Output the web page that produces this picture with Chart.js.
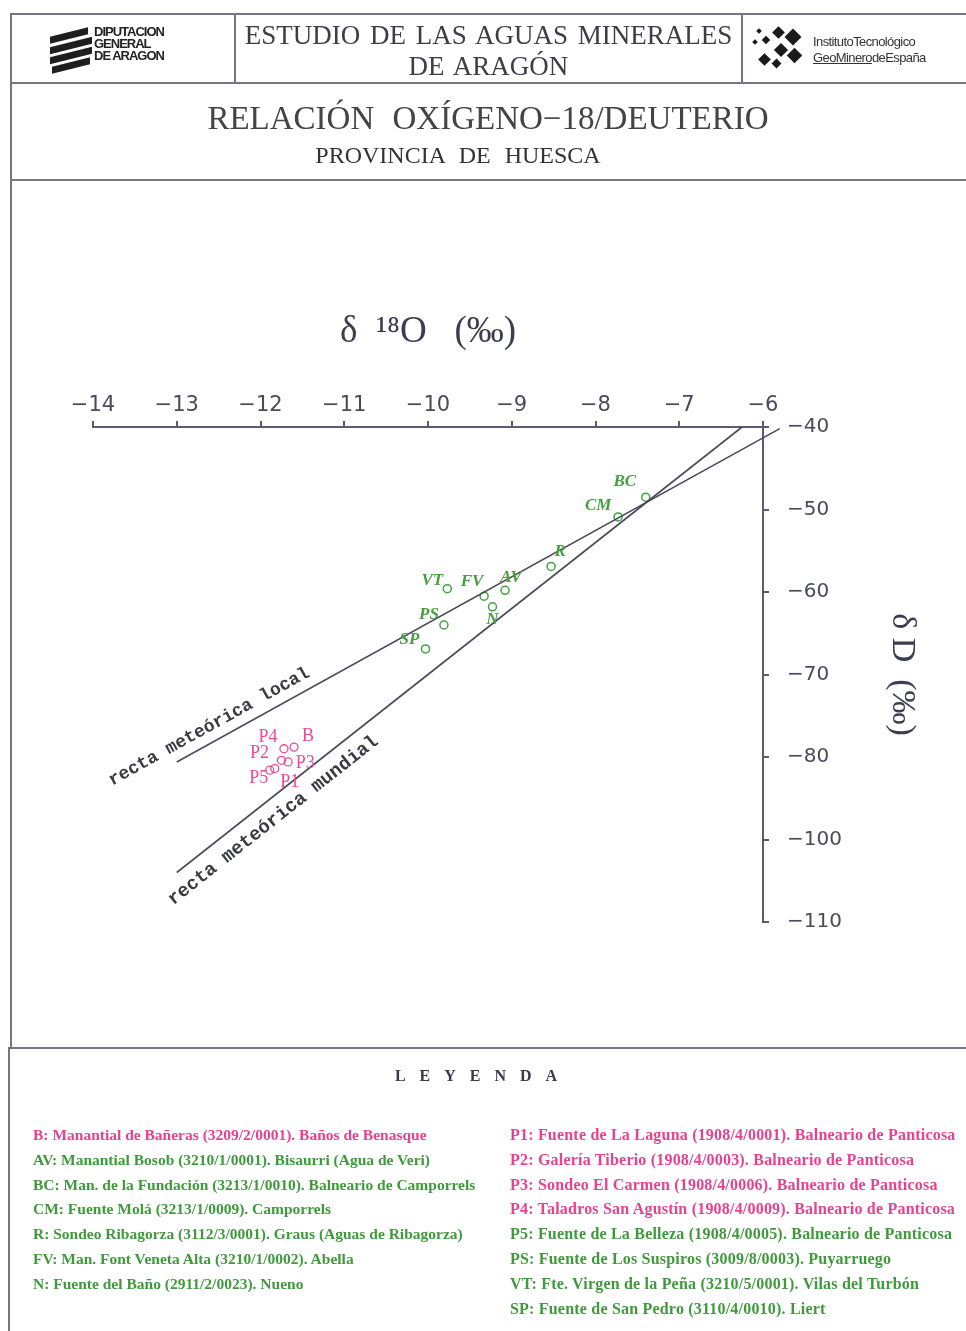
<!DOCTYPE html>
<html>
<head>
<meta charset="utf-8">
<script src="https://cdn.jsdelivr.net/npm/chart.js@4.4.1/dist/chart.umd.min.js"></script>
<style>
  body { margin: 0; background: #fff; }
  #page { position: relative; width: 966px; height: 1331px; overflow: hidden; font-family: "Liberation Serif", serif; color: #3d3d48; }
  #grafico { position: absolute; left: 0; top: 0; }
  .hl { position: absolute; height: 2px; background: #767684; }
  .vl { position: absolute; width: 2px; background: #767684; }
  .txt { position: absolute; white-space: nowrap; }
  .cab { left: 235px; width: 507px; text-align: center; font-size: 27px; line-height: 30px; word-spacing: 3px; }
  .leg { position: absolute; white-space: nowrap; font-family: "Liberation Serif", serif; font-weight: bold; line-height: 18px; }
  #legIzq .leg { font-size: 15.5px; letter-spacing: 0; }
  #legDer .leg { font-size: 16px; letter-spacing: 0.2px; }
  .rosa { color: #e8418f; }
  .verde { color: #3f9a3c; }
  .barra { position: absolute; background: #1e1e1e; height: 7px; width: 40px; transform: skewY(-14deg); }
  .rombo { position: absolute; background: #1a1a1a; transform: rotate(45deg); }
</style>
</head>
<body>
<div id="page">
  <canvas id="grafico" width="966" height="1331"></canvas>

  <!-- marcos -->
  <div class="hl" style="left:10px; top:13px; width:956px;"></div>
  <div class="hl" style="left:10px; top:82px; width:956px;"></div>
  <div class="hl" style="left:10px; top:179px; width:956px;"></div>
  <div class="hl" style="left:8px; top:1047px; width:958px;"></div>
  <div class="vl" style="left:10px; top:13px; height:1035px;"></div>
  <div class="vl" style="left:8px; top:1047px; height:284px;"></div>
  <div class="vl" style="left:234px; top:13px; height:70px;"></div>
  <div class="vl" style="left:741px; top:13px; height:70px;"></div>

  <!-- logo DGA -->
  <div class="barra" style="left:50px; top:32px; width:38px;"></div>
  <div class="barra" style="left:50px; top:42px; width:42px;"></div>
  <div class="barra" style="left:50px; top:52px; width:42px;"></div>
  <div class="barra" style="left:52px; top:62px; width:38px;"></div>
  <div class="txt" style="left:94px; top:26px; font-family:'Liberation Sans',sans-serif; font-weight:bold; font-size:13px; line-height:12px; letter-spacing:-1px; color:#222;">DIPUTACION<br>GENERAL<br>DE ARAGON</div>

  <!-- cabecera -->
  <div class="txt cab" style="top:20px;">ESTUDIO DE LAS AGUAS MINERALES</div>
  <div class="txt cab" style="top:51px;">DE ARAGÓN</div>

  <!-- logo ITGE -->
  <div class="rombo" style="left:757px; top:29px; width:4px; height:4px;"></div>
  <div class="rombo" style="left:753px; top:40px; width:4px; height:4px;"></div>
  <div class="rombo" style="left:763px; top:37px; width:6px; height:6px;"></div>
  <div class="rombo" style="left:774px; top:28px; width:9px; height:9px;"></div>
  <div class="rombo" style="left:787px; top:31px; width:12px; height:12px;"></div>
  <div class="rombo" style="left:776px; top:45px; width:10px; height:10px;"></div>
  <div class="rombo" style="left:789px; top:50px; width:11px; height:11px;"></div>
  <div class="rombo" style="left:760px; top:55px; width:9px; height:9px;"></div>
  <div class="rombo" style="left:773px; top:60px; width:7px; height:7px;"></div>
  <div class="txt" style="left:813px; top:34px; font-family:'Liberation Sans',sans-serif; font-size:13px; line-height:16px; letter-spacing:-0.6px; color:#333;">InstitutoTecnológico<br><span style="text-decoration:underline;">GeoMinero</span>deEspaña</div>

  <!-- título -->
  <div class="txt" style="left:0; width:976px; top:99px; text-align:center; font-size:33px; line-height:38px; word-spacing:10px; color:#444;">RELACIÓN OXÍGENO−18/DEUTERIO</div>
  <div class="txt" style="left:0; width:916px; top:142px; text-align:center; font-size:24px; line-height:26px; word-spacing:8px; color:#333;">PROVINCIA DE HUESCA</div>

  <!-- leyenda -->
  <div class="txt" style="left:0; width:966px; top:1067px; text-align:center; font-weight:bold; font-size:16px; letter-spacing:14px; color:#3a3a4a;">LEYENDA</div>
  <div id="legIzq"></div>
  <div id="legDer"></div>
</div>

<script>
// δ18O / δD - Provincia de Huesca

// puntos verdes
var codigosVerde = ["BC", "CM", "R", "VT", "FV", "AV", "N", "PS", "SP"];
var o18Verde = [-7.40, -7.73, -8.53, -9.77, -9.33, -9.08, -9.23, -9.81, -10.03];
var dVerde = [-48.5, -50.9, -56.9, -59.6, -60.5, -59.8, -61.8, -64.0, -66.9];

// puntos rosas (Panticosa y Benasque)
var codigosRosa = ["P4", "B", "P2", "P3", "P5", "P1"];
var o18Rosa = [-11.72, -11.60, -11.75, -11.67, -11.89, -11.83];
var dRosa = [-79.0, -78.8, -80.4, -80.6, -81.6, -81.4];

// rectas meteóricas (extremos)
var mundialO18 = [-13.0, -6.25];
var mundialD = [-94.0, -40.0];
var localO18 = [-13.0, -5.8];
var localD = [-80.6, -40.2];

// ejes
var o18Min = -14, o18Max = -6;
var dMin = -100, dMax = -40;
var dTickLabels = ["−40", "−50", "−60", "−70", "−80", "−100", "−110"];

// leyenda
var leyendaIzq = [
  ["B: Manantial de Bañeras (3209/2/0001). Baños de Benasque", "rosa"],
  ["AV: Manantial Bosob (3210/1/0001). Bisaurri (Agua de Veri)", "verde"],
  ["BC: Man. de la Fundación (3213/1/0010). Balneario de Camporrels", "verde"],
  ["CM: Fuente Molá (3213/1/0009). Camporrels", "verde"],
  ["R: Sondeo Ribagorza (3112/3/0001). Graus (Aguas de Ribagorza)", "verde"],
  ["FV: Man. Font Veneta Alta (3210/1/0002). Abella", "verde"],
  ["N: Fuente del Baño (2911/2/0023). Nueno", "verde"]
];
var leyendaDer = [
  ["P1: Fuente de La Laguna (1908/4/0001). Balneario de Panticosa", "rosa"],
  ["P2: Galería Tiberio (1908/4/0003). Balneario de Panticosa", "rosa"],
  ["P3: Sondeo El Carmen (1908/4/0006). Balneario de Panticosa", "rosa"],
  ["P4: Taladros San Agustín (1908/4/0009). Balneario de Panticosa", "rosa"],
  ["P5: Fuente de La Belleza (1908/4/0005). Balneario de Panticosa", "verde"],
  ["PS: Fuente de Los Suspiros (3009/8/0003). Puyarruego", "verde"],
  ["VT: Fte. Virgen de la Peña (3210/5/0001). Vilas del Turbón", "verde"],
  ["SP: Fuente de San Pedro (3110/4/0010). Liert", "verde"]
];

function pares(xs, ys) {
  return xs.map(function (x, i) { return { x: x, y: ys[i] }; });
}

function pintaLeyenda(id, filas, left, top) {
  var el = document.getElementById(id);
  filas.forEach(function (f, i) {
    var d = document.createElement("div");
    d.className = "leg " + f[1];
    d.style.left = left + "px";
    d.style.top = (top + i * 24.8) + "px";
    d.textContent = f[0];
    el.appendChild(d);
  });
}
pintaLeyenda("legIzq", leyendaIzq, 33, 1126);
pintaLeyenda("legDer", leyendaDer, 510, 1126);

var verde = "#46a040";
var rosa = "#ec4a95";
var ejeColor = "#5c5c70";

// desplazamientos de las etiquetas respecto al punto (px)
var offVerde = { BC: [-21, -16], CM: [-20, -11], R: [9, -15], VT: [-15, -8], FV: [-12, -15], AV: [6, -13], N: [0, 13], PS: [-15, -10], SP: [-16, -9] };
var offRosa = { P4: [-16, -11], B: [14, -11], P2: [-22, -7], P3: [17, 1], P5: [-11, 8], P1: [15, 14] };

var etiquetas = {
  id: "etiquetas",
  afterDatasetsDraw: function (chart) {
    var ctx = chart.ctx;
    ctx.save();
    ctx.textAlign = "center";
    ctx.textBaseline = "middle";

    // etiquetas de las rectas
    function rotulo(dsIndex, texto, t, normal, size) {
      var pts = chart.getDatasetMeta(dsIndex).data;
      var x1 = pts[0].x, y1 = pts[0].y, x2 = pts[1].x, y2 = pts[1].y;
      var len = Math.hypot(x2 - x1, y2 - y1);
      var ux = (x2 - x1) / len, uy = (y2 - y1) / len;
      var cx = x1 + t * (x2 - x1) + normal * uy;
      var cy = y1 + t * (y2 - y1) - normal * ux;
      ctx.save();
      ctx.translate(cx, cy);
      ctx.rotate(Math.atan2(uy, ux));
      ctx.fillStyle = "#3a3a44";
      ctx.font = "bold " + size + "px 'Liberation Mono', monospace";
      ctx.fillText(texto, 0, 0);
      ctx.restore();
    }
    rotulo(0, "recta meteórica local", 0.066, 15, 18);
    rotulo(1, "recta meteórica mundial", 0.150, -19, 19);

    ctx.font = "italic bold 17px 'Liberation Serif', serif";
    ctx.fillStyle = verde;
    chart.getDatasetMeta(2).data.forEach(function (p, i) {
      var o = offVerde[codigosVerde[i]];
      ctx.fillText(codigosVerde[i], p.x + o[0], p.y + o[1]);
    });
    ctx.font = "18px 'Liberation Serif', serif";
    ctx.fillStyle = rosa;
    chart.getDatasetMeta(3).data.forEach(function (p, i) {
      var o = offRosa[codigosRosa[i]];
      ctx.fillText(codigosRosa[i], p.x + o[0], p.y + o[1]);
    });
    ctx.restore();
  }
};

new Chart(document.getElementById("grafico"), {
  type: "scatter",
  data: {
    datasets: [
      {
        label: "recta meteórica local",
        data: pares(localO18, localD),
        showLine: true,
        borderColor: "#4a4a5c",
        borderWidth: 1.6,
        pointRadius: 0,
        clip: false
      },
      {
        label: "recta meteórica mundial",
        data: pares(mundialO18, mundialD),
        showLine: true,
        borderColor: "#4a4a5c",
        borderWidth: 1.6,
        pointRadius: 0,
        clip: false
      },
      {
        label: "verde",
        data: pares(o18Verde, dVerde),
        pointRadius: 4,
        pointBorderWidth: 1.5,
        borderColor: verde,
        backgroundColor: "rgba(255,255,255,0)"
      },
      {
        label: "rosa",
        data: pares(o18Rosa, dRosa),
        pointRadius: 4,
        pointBorderWidth: 1.3,
        borderColor: rosa,
        backgroundColor: "rgba(255,255,255,0)"
      }
    ]
  },
  options: {
    responsive: false,
    animation: false,
    layout: { padding: { left: 93, top: 180, right: 31, bottom: 409 } },
    plugins: { legend: { display: false }, tooltip: { enabled: false } },
    scales: {
      x: {
        type: "linear",
        position: "top",
        min: o18Min,
        max: o18Max,
        afterFit: function (s) { s.height = 247; },
        ticks: {
          stepSize: 1,
          padding: 3,
          color: "#4a4a5a",
          font: { family: "'DejaVu Sans', sans-serif", size: 21 },
          callback: function (v) { return "−" + Math.abs(v); }
        },
        grid: { drawOnChartArea: false, drawTicks: true, tickLength: 6, color: ejeColor, lineWidth: 2 },
        border: { display: true, color: ejeColor, width: 2 },
        title: {
          display: true,
          text: "δ  ¹⁸O   (‰)",
          color: "#3d3d50",
          font: { family: "'Liberation Serif', serif", size: 37 },
          padding: { top: 130, bottom: 0 }
        }
      },
      y: {
        type: "linear",
        position: "right",
        min: dMin,
        max: dMax,
        afterFit: function (s) { s.width = 172; },
        ticks: {
          stepSize: 10,
          padding: 18,
          color: "#4a4a5a",
          font: { family: "'DejaVu Sans', sans-serif", size: 20 },
          callback: function (v, i, ticks) { return dTickLabels[ticks.length - 1 - i]; }
        },
        grid: { drawOnChartArea: false, drawTicks: true, tickLength: 6, color: ejeColor, lineWidth: 2 },
        border: { display: true, color: ejeColor, width: 2 },
        title: {
          display: true,
          text: "δ D  (‰)",
          color: "#3d3d50",
          font: { family: "'Liberation Serif', serif", size: 34 },
          padding: { top: 13, bottom: 0 }
        }
      }
    }
  },
  plugins: [etiquetas]
});
</script>
</body>
</html>
